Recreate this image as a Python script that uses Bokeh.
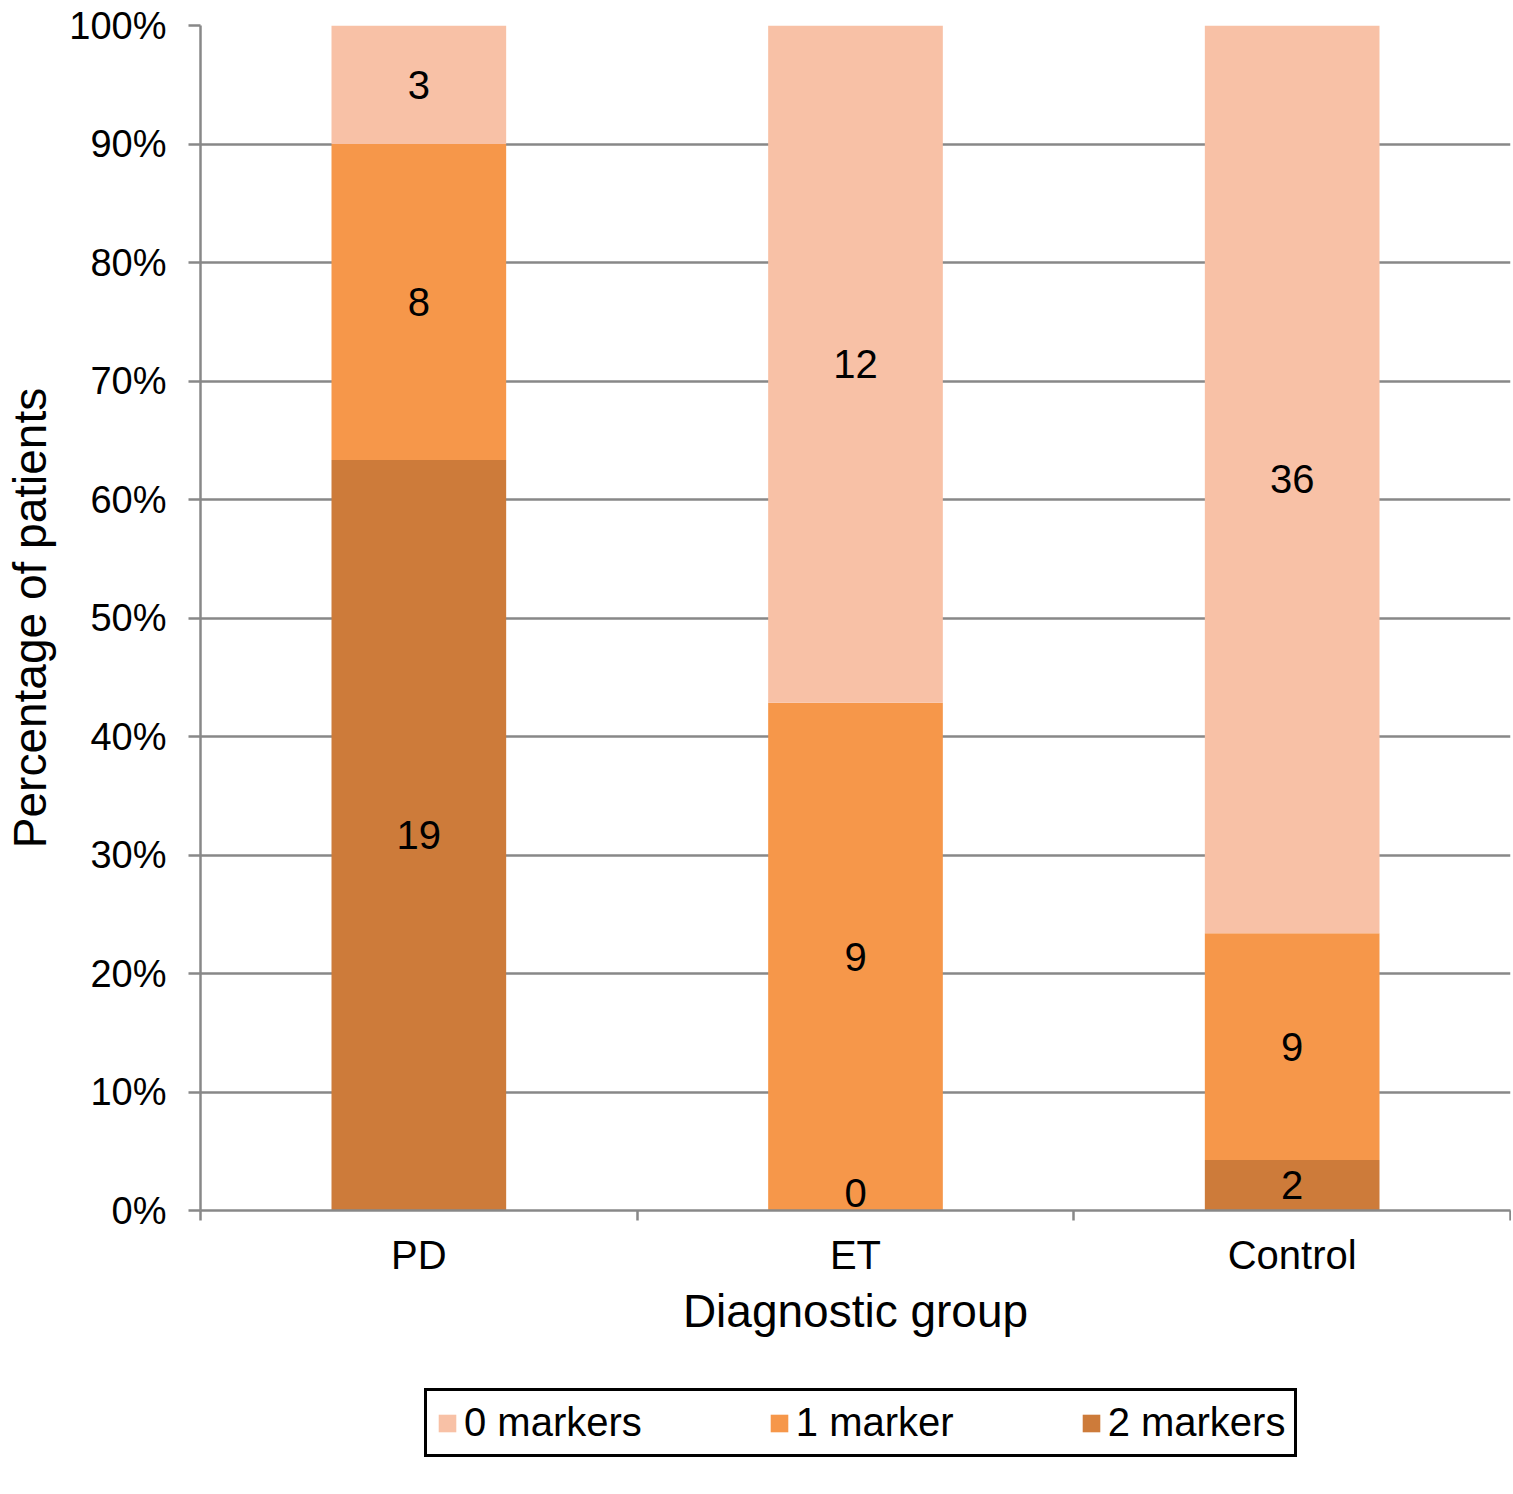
import numpy as np
from bokeh.plotting import figure
from bokeh.layouts import column
from bokeh.models import (ColumnDataSource, FixedTicker, Legend, LegendItem,
                          Range1d)
from bokeh.core.properties import value
from bokeh.embed import file_html
from bokeh.resources import INLINE

# ---- data ----
groups = ["PD", "ET", "Control"]
series = ["0 markers", "1 marker", "2 markers"]
two_markers = [19, 0, 2]
one_marker = [8, 9, 9]
zero_markers = [3, 12, 36]
y_ticks = [0.0, 0.1, 0.2, 0.3, 0.4, 0.5, 0.6, 0.7, 0.8, 0.9, 1.0]
y_tick_labels = ["0%", "10%", "20%", "30%", "40%", "50%", "60%", "70%", "80%", "90%", "100%"]

c_zero = "#F8C1A6"
c_one = "#F6974A"
c_two = "#CD7B3A"
FONT = "Liberation Sans"

two = np.array(two_markers, dtype=float)
one = np.array(one_marker, dtype=float)
zero = np.array(zero_markers, dtype=float)
tot = two + one + zero
f2, f1, f0 = two / tot, one / tot, zero / tot
xpos = [i + 0.5 for i in range(len(groups))]

src = ColumnDataSource(dict(x=xpos, f2=f2, f1=f1, f0=f0))

W = 1511
p = figure(width=W, height=1360, output_backend="svg", toolbar_location=None,
           x_range=Range1d(0, len(groups)), y_range=Range1d(0, 1),
           min_border_left=200, min_border_right=1, min_border_top=25,
           min_border_bottom=150)
p.outline_line_color = None
p.background_fill_color = "white"

renderers = p.vbar_stack(["f2", "f1", "f0"], x="x", width=0.4, source=src,
                         color=[c_two, c_one, c_zero], line_color=None)

# labels
lab_x, lab_y, lab_t, lab_off = [], [], [], []
for i in range(len(groups)):
    bottoms = [0, f2[i], f2[i] + f1[i]]
    fr = [f2[i], f1[i], f0[i]]
    cnt = [two_markers[i], one_marker[i], zero_markers[i]]
    for b, f, c in zip(bottoms, fr, cnt):
        lab_x.append(xpos[i])
        lab_y.append(b + f / 2)
        lab_t.append(str(c))
        lab_off.append(-18 if c == 0 else 0)
lsrc = ColumnDataSource(dict(x=lab_x, y=lab_y, t=lab_t, off=lab_off))
p.text(x="x", y="y", text="t", y_offset="off", source=lsrc, text_align="center",
       text_baseline="middle", text_font=value(FONT), text_font_size="40px",
       text_color="black")

# axes
GRAY = "#888888"
p.xgrid.grid_line_color = None
p.ygrid.grid_line_color = GRAY
p.ygrid.grid_line_width = 2.5
p.ygrid.ticker = FixedTicker(ticks=y_ticks)

p.yaxis.ticker = FixedTicker(ticks=y_ticks, minor_ticks=[])
p.yaxis.major_label_overrides = {t: l for t, l in zip(y_ticks, y_tick_labels)}
p.yaxis.axis_line_color = GRAY
p.yaxis.axis_line_width = 2.5
p.yaxis.major_tick_line_color = GRAY
p.yaxis.major_tick_line_width = 2.5
p.yaxis.major_tick_out = 12
p.yaxis.major_tick_in = 0
p.yaxis.major_label_standoff = 22
p.yaxis.major_label_text_font = FONT
p.yaxis.major_label_text_font_size = "38px"
p.yaxis.major_label_text_color = "black"
p.yaxis.axis_label = "Percentage of patients"
p.yaxis.axis_label_text_font = FONT
p.yaxis.axis_label_text_font_size = "46px"
p.yaxis.axis_label_text_font_style = "normal"
p.yaxis.axis_label_text_color = "black"
p.yaxis.axis_label_standoff = 10

p.xaxis.ticker = FixedTicker(ticks=xpos, minor_ticks=list(range(len(groups) + 1)))
p.xaxis.major_label_overrides = {x: g for x, g in zip(xpos, groups)}
p.xaxis.axis_line_color = GRAY
p.xaxis.axis_line_width = 2.5
p.xaxis.major_tick_line_color = None
p.xaxis.major_tick_out = 0
p.xaxis.major_tick_in = 0
p.xaxis.minor_tick_line_color = GRAY
p.xaxis.minor_tick_line_width = 2.5
p.xaxis.minor_tick_out = 10
p.xaxis.minor_tick_in = 0
p.xaxis.major_label_standoff = 12
p.xaxis.major_label_text_font = FONT
p.xaxis.major_label_text_font_size = "40px"
p.xaxis.major_label_text_color = "black"
p.xaxis.axis_label = "Diagnostic group"
p.xaxis.axis_label_text_font = FONT
p.xaxis.axis_label_text_font_size = "46px"
p.xaxis.axis_label_text_font_style = "normal"
p.xaxis.axis_label_text_color = "black"
p.xaxis.axis_label_standoff = 5

# ---- legend strip (separate figure below the chart) ----
q = figure(width=W, height=118, output_backend="svg", toolbar_location=None,
           x_range=Range1d(0, 1), y_range=Range1d(0, 1),
           x_axis_location=None, y_axis_location=None,
           min_border_left=200, min_border_right=1, min_border_top=0,
           min_border_bottom=0)
q.outline_line_color = None
q.xgrid.grid_line_color = None
q.ygrid.grid_line_color = None
# swatch renderers kept outside the visible range; only their legend glyphs show
swatches = [q.vbar(x=[-5.0], top=[0.0], width=0.4, color=c, line_color=None)
            for c in (c_zero, c_one, c_two)]
items = [LegendItem(label=s, renderers=[r]) for s, r in zip(series, swatches)]
legend = Legend(items=items, orientation="horizontal", location=(224, 21),
                label_text_font=FONT, label_text_font_size="40px",
                label_text_color="black", glyph_width=22, glyph_height=22,
                label_standoff=6, spacing=126, padding=9, margin=0,
                border_line_color="black", border_line_width=3,
                border_line_alpha=1.0, background_fill_alpha=1.0,
                background_fill_color="white")
q.add_layout(legend)

layout = column(p, q, spacing=0)
open("out.html", "w").write(file_html(layout, INLINE))
